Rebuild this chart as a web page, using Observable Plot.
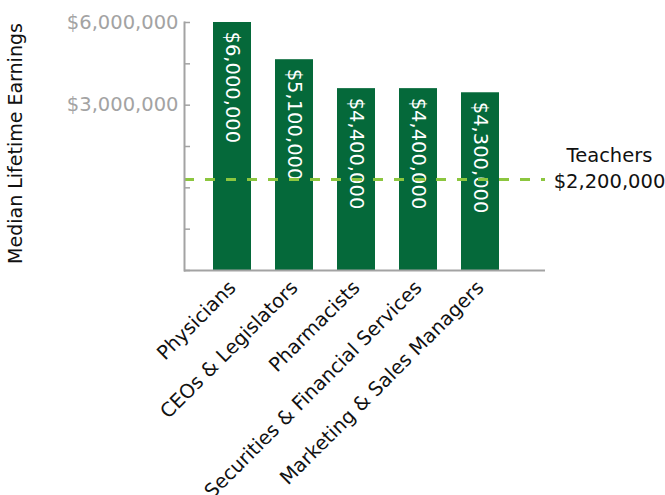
<!DOCTYPE html>
<html>
<head>
<meta charset="utf-8">
<script src="https://cdn.jsdelivr.net/npm/d3@7"></script>
<script src="https://cdn.jsdelivr.net/npm/@observablehq/plot@0.6"></script>
<style>
  body { margin: 0; background: #fff; }
  svg { font-family: "DejaVu Sans", sans-serif; }
</style>
</head>
<body>
<div id="chart"></div>
<script>
const occupations = ["Physicians", "CEOs & Legislators", "Pharmacists", "Securities & Financial Services", "Marketing & Sales Managers"];
const earnings = [6000000, 5100000, 4400000, 4400000, 4300000];
const barLabels = ["$6,000,000", "$5,100,000", "$4,400,000", "$4,400,000", "$4,300,000"];
const teacherValue = 2200000;
const teacherLabel = "Teachers\n$2,200,000";
const tickMarks = [0, 1000000, 2000000, 3000000, 4000000, 5000000, 6000000];
const tickLabelValues = [6000000, 4000000];
const tickLabels = ["$6,000,000", "$3,000,000"];
const yTitle = "Median Lifetime Earnings";

const data = occupations.map((o, i) => ({occupation: o, value: earnings[i], label: barLabels[i]}));
const labelMap = new Map(tickLabelValues.map((v, i) => [v, tickLabels[i]]));

const green = "#05693a";
const gray = "#a3a3a3";
const fs = 19.5;

const chart = Plot.plot({
  width: 665,
  height: 495,
  marginTop: 22,
  marginBottom: 225,
  marginLeft: 184,
  marginRight: 120,
  style: {fontFamily: "'DejaVu Sans', sans-serif", background: "#fff"},
  x: {domain: occupations, range: [201, 511], paddingInner: 0.387, paddingOuter: 0.1935, label: null},
  y: {domain: [0, 6000000], label: null},
  marks: [
    Plot.barY(data, {x: "occupation", y: "value", fill: green}),
    Plot.text(data, {x: "occupation", y: "value", text: "label", rotate: 90, textAnchor: "start", dy: 9, fill: "white", fontSize: fs}),
    Plot.ruleY([teacherValue], {stroke: "#8cc63f", strokeWidth: 3, strokeDasharray: "10,11"}),
    Plot.text([teacherLabel], {frameAnchor: "right", y: [teacherValue], dx: 64, dy: -13, textAnchor: "middle", fontSize: fs, fill: "#111", lineHeight: 1.33}),
    Plot.ruleY([0], {stroke: gray, strokeWidth: 2}),
    Plot.frame({anchor: "left", stroke: gray, strokeWidth: 2}),
    Plot.axisY({ticks: tickMarks, tickSize: -6, tickFormat: () => "", stroke: gray, strokeWidth: 1.5, label: null}),
    Plot.axisY({ticks: tickLabelValues, tickSize: 0, tickPadding: 6, tickFormat: d => labelMap.get(d), fill: gray, fontSize: fs, label: null}),
    Plot.axisX({tickSize: 0, tickRotate: -45, fontSize: fs, fill: "#111", tickPadding: 14, label: null}),
    Plot.text([yTitle], {frameAnchor: "left", dx: -169, dy: -3, rotate: -90, textAnchor: "middle", fontSize: 19, fill: "#111"})
  ]
});
document.getElementById("chart").appendChild(chart);
</script>
</body>
</html>
